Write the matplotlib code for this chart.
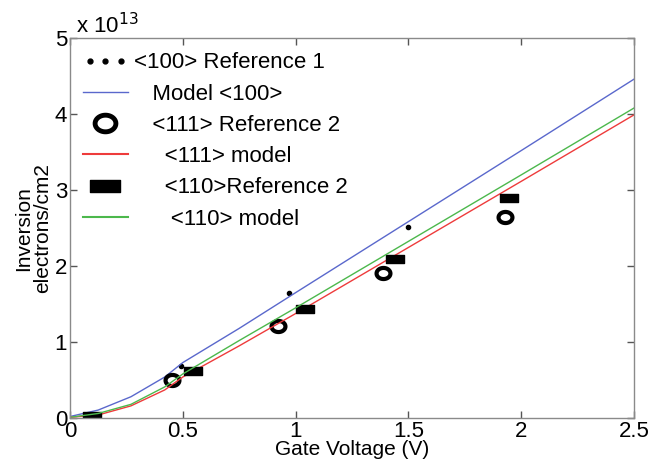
import numpy as np
import matplotlib
matplotlib.use("Agg")
import matplotlib.pyplot as plt
from matplotlib.path import Path
from matplotlib.lines import Line2D
from matplotlib.legend_handler import HandlerLine2D

plt.rcParams['font.family'] = ['Liberation Sans', 'DejaVu Sans']

# ---------------------------------------------------------------
# data (electrons/cm2, in units of 1e13)
# ---------------------------------------------------------------
vg_model = [0.0, 0.125, 0.27, 0.42, 0.5, 0.75, 1.0, 1.5, 2.0, 2.5]
model_100 = [0.02, 0.105, 0.28, 0.54, 0.73, 1.18, 1.65, 2.585, 3.52, 4.46]
model_111 = [0.01, 0.04, 0.16, 0.37, 0.54, 0.95, 1.375, 2.245, 3.115, 3.99]
model_110 = [0.01, 0.06, 0.18, 0.41, 0.58, 1.02, 1.45, 2.325, 3.20, 4.08]

vg_ref1_100 = [0.49, 0.97, 1.50]
ns_ref1_100 = [0.68, 1.65, 2.52]

vg_ref2_111 = [0.454, 0.92, 1.386, 1.93]
ns_ref2_111 = [0.50, 1.21, 1.91, 2.65]

vg_ref2_110 = [0.096, 0.543, 1.043, 1.44, 1.947]
ns_ref2_110 = [0.03, 0.62, 1.43, 2.09, 2.89]

labels = ['<100> Reference 1', '   Model <100>', '   <111> Reference 2',
          '     <111> model', '     <110>Reference 2', '      <110> model']

# custom markers
t = np.linspace(0, 2*np.pi, 40)
ellipse = Path(np.column_stack([1.25*np.cos(t), np.sin(t)]), closed=True)
rect = Path([(-1, -0.4), (1, -0.4), (1, 0.4), (-1, 0.4), (-1, -0.4)], closed=True)

blue, red, green = '#5a68cc', '#ee3b3b', '#4cb84c'

fig = plt.figure(figsize=(6.5, 4.65), dpi=100)
ax = fig.add_axes([0.1077, 0.101, 0.8677, 0.817])

ax.plot(vg_ref1_100, ns_ref1_100, ls='none', marker='.', ms=6, color='k')
ax.plot(vg_model, model_100, color=blue, lw=1.0)
ax.plot(vg_ref2_111, ns_ref2_111, ls='none', marker=ellipse, ms=10, mew=3,
        mfc='white', mec='k')
ax.plot(vg_model, model_111, color=red, lw=1.0)
ax.plot(vg_ref2_110, ns_ref2_110, ls='none', marker=rect, ms=13, color='k')
ax.plot(vg_model, model_110, color=green, lw=1.0)

ax.set_xlim(0, 2.5)
ax.set_ylim(0, 5)
ax.set_xticks([0, 0.5, 1, 1.5, 2, 2.5])
ax.set_xticklabels(['0', '0.5', '1', '1.5', '2', '2.5'])
ax.set_yticks([0, 1, 2, 3, 4, 5])

for s in ax.spines.values():
    s.set_color('#8a8a8a')
    s.set_linewidth(1.0)
ax.tick_params(direction='in', length=5, width=1, color='#555555',
               top=True, right=True, labelsize=16, pad=2)

ax.set_xlabel('Gate Voltage (V)', fontsize=15, labelpad=-1)
ax.set_ylabel('Inversion\nelectrons/cm2', fontsize=15, labelpad=2, linespacing=1.0)
ax.text(0.0, 1.0, ' x 10$^{13}$', transform=ax.transAxes, fontsize=16,
        ha='left', va='bottom')

# legend proxies (legend markers drawn bigger than in the plot)
p1 = Line2D([], [], ls='none', marker='.', ms=7, color='k')
p2 = Line2D([], [], color=blue, lw=1.0)
p3 = Line2D([], [], ls='none', marker=ellipse, ms=15, mew=3.5, mfc='white', mec='k')
p4 = Line2D([], [], color=red, lw=1.5)
p5 = Line2D([], [], ls='none', marker=rect, ms=21, color='k')
p6 = Line2D([], [], color=green, lw=1.5)

leg = ax.legend(handles=[p1, p2, p3, p4, p5, p6], labels=labels, loc='upper left',
                bbox_to_anchor=(-0.012, 1.015), frameon=False, fontsize=16,
                labelspacing=0.46, handlelength=2.0, handletextpad=0.3,
                handler_map={p1: HandlerLine2D(numpoints=3)})

fig.savefig('out.png', dpi=100)
